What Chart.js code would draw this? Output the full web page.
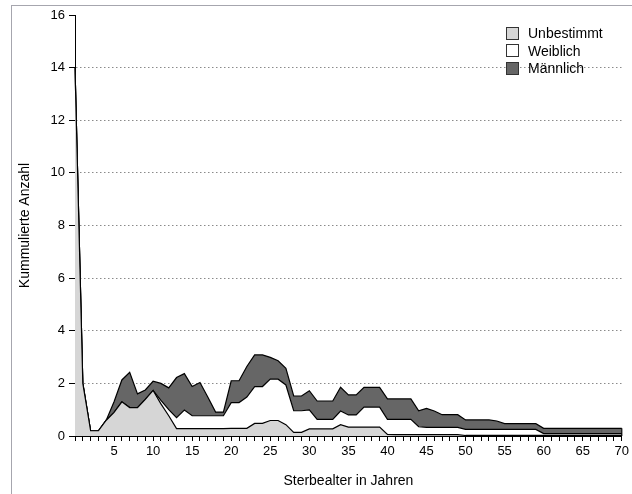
<!DOCTYPE html>
<html>
<head>
<meta charset="utf-8">
<script src="https://cdn.jsdelivr.net/npm/chart.js@4/dist/chart.umd.min.js"></script>
<style>
  html, body { margin: 0; padding: 0; background: #fff; }
  #wrap { position: relative; width: 632px; height: 494px; overflow: hidden; }
  #c { position: absolute; left: 0; top: 0; }
  #frame { position: absolute; left: 11px; top: 5px; width: 700px; height: 600px;
           border-left: 1px solid #a6a6ae; border-top: 1px solid #a6a6ae; }
  #legend { position: absolute; left: 506px; top: 25px; font-family: 'Liberation Sans', Arial, sans-serif;
            font-size: 14px; color: #000; }
  .item { position: relative; height: 17.5px; line-height: 17.5px; white-space: nowrap; }
  .sw { display: inline-block; width: 11px; height: 11px; border: 1px solid #333;
        vertical-align: middle; margin-right: 9px; position: relative; top: -1px; }
</style>
</head>
<body>
<div id="wrap">
  <div id="frame"></div>
  <canvas id="c" width="632" height="494"></canvas>
  <div id="legend"></div>
</div>
<script>
// Ages 0..70
const ages = Array.from({length: 71}, (_, i) => String(i));

// Series values (per age, stacked)
const unbestimmt = [
  14, 2, 0.2, 0.2, 0.6, 0.9, 1.3, 1.08, 1.08, 1.39,
  1.73, 1.22, 0.77, 0.28, 0.28, 0.28, 0.28, 0.28, 0.28, 0.28,
  0.29, 0.29, 0.29, 0.48, 0.48, 0.59, 0.59, 0.43, 0.14, 0.14,
  0.27, 0.27, 0.27, 0.27, 0.43, 0.34, 0.34, 0.34, 0.34, 0.34,
  0.06, 0.05, 0.05, 0.05, 0.05, 0.05, 0.05, 0.05, 0.05, 0.05,
  0.02, 0.02, 0.02, 0.02, 0.02, 0.02, 0.02, 0.02, 0.02, 0.02,
  0.02, 0.02, 0.02, 0.02, 0.02, 0.02, 0.02, 0.02, 0.02, 0.02, 0.02
];
const weiblich = [
  0, 0, 0, 0, 0, 0, 0, 0, 0, 0,
  0, 0.13, 0.23, 0.42, 0.71, 0.49, 0.49, 0.49, 0.49, 0.49,
  0.98, 0.98, 1.19, 1.4, 1.4, 1.57, 1.57, 1.51, 0.82, 0.82,
  0.72, 0.36, 0.36, 0.36, 0.52, 0.46, 0.46, 0.76, 0.76, 0.76,
  0.57, 0.58, 0.58, 0.58, 0.3, 0.28, 0.28, 0.28, 0.28, 0.28,
  0.23, 0.23, 0.23, 0.23, 0.23, 0.23, 0.23, 0.23, 0.23, 0.23,
  0.07, 0.07, 0.07, 0.07, 0.07, 0.07, 0.07, 0.07, 0.07, 0.07, 0.07
];
const maennlich = [
  0, 0, 0, 0, 0, 0.4, 0.83, 1.34, 0.52, 0.36,
  0.35, 0.65, 0.83, 1.52, 1.38, 1.11, 1.26, 0.71, 0.14, 0.14,
  0.83, 0.83, 1.16, 1.2, 1.2, 0.83, 0.7, 0.63, 0.56, 0.56,
  0.73, 0.7, 0.7, 0.7, 0.9, 0.76, 0.76, 0.75, 0.75, 0.75,
  0.78, 0.78, 0.78, 0.78, 0.61, 0.72, 0.62, 0.48, 0.48, 0.48,
  0.36, 0.36, 0.36, 0.36, 0.32, 0.22, 0.22, 0.22, 0.22, 0.22,
  0.2, 0.2, 0.2, 0.2, 0.2, 0.2, 0.2, 0.2, 0.2, 0.2, 0.2
];
const seriesNames = ['Unbestimmt', 'Weiblich', 'Männlich'];
const yTicks = [0, 2, 4, 6, 8, 10, 12, 14, 16];

const FONT = "'Liberation Sans', Arial, Helvetica, sans-serif";
Chart.defaults.font.family = FONT;
Chart.defaults.font.size = 13;
Chart.defaults.color = '#000';

const fills = ['#d6d6d6', '#ffffff', '#666666'];
const seriesData = [unbestimmt, weiblich, maennlich];

const datasets = seriesNames.map((name, i) => ({
  label: name,
  data: seriesData[i],
  backgroundColor: fills[i],
  borderColor: '#000',
  borderWidth: 1.2,
  pointRadius: 0,
  tension: 0,
  fill: i === 0 ? 'origin' : '-1'
}));

const closeEdge = {
  id: 'closeEdge',
  afterDatasetsDraw(chart) {
    const meta = chart.getDatasetMeta(datasets.length - 1);
    const pt = meta.data[meta.data.length - 1];
    const ctx = chart.ctx;
    ctx.save();
    ctx.strokeStyle = '#000';
    ctx.lineWidth = 1.2;
    ctx.beginPath();
    ctx.moveTo(pt.x, pt.y);
    ctx.lineTo(pt.x, chart.chartArea.bottom);
    ctx.stroke();
    ctx.restore();
  }
};

new Chart(document.getElementById('c'), {
  type: 'line',
  data: { labels: ages, datasets },
  plugins: [closeEdge],
  options: {
    responsive: false,
    animation: false,
    events: [],
    layout: { padding: { left: 0, right: 10, top: 15, bottom: 0 } },
    plugins: { legend: { display: false }, tooltip: { enabled: false } },
    scales: {
      x: {
        type: 'category',
        offset: false,
        grid: { drawOnChartArea: false, drawTicks: true, tickLength: 5, tickColor: '#000', tickWidth: 1 },
        border: { color: '#000', width: 1 },
        ticks: {
          autoSkip: false, maxRotation: 0, minRotation: 0, padding: 3,
          font: { size: 13 },
          callback: (v, i) => (i > 0 && i % 5 === 0) ? ages[i] : ''
        },
        title: { display: true, text: 'Sterbealter in Jahren', font: { size: 14 }, padding: { top: 0, bottom: 4.6 } },
        afterFit: s => { s.height = 58; }
      },
      y: {
        stacked: true,
        min: 0, max: 16,
        afterBuildTicks: s => { s.ticks = yTicks.map(v => ({ value: v })); },
        grid: {
          color: c => (c.tick && (c.tick.value === 0 || c.tick.value === 16)) ? 'rgba(0,0,0,0)' : '#8a8a8a',
          lineWidth: 1, drawTicks: true, tickLength: 6, tickColor: '#000', tickWidth: 1
        },
        border: { color: '#000', width: 1, dash: [1.5, 2.5] },
        ticks: { padding: 4, font: { size: 13 } },
        title: { display: true, text: 'Kummulierte Anzahl', font: { size: 14 }, padding: { top: 16.6, bottom: 0 } },
        afterFit: s => { s.width = 75; }
      }
    }
  }
});

// HTML legend built from the dataset definitions
const lg = document.getElementById('legend');
datasets.forEach(d => {
  const it = document.createElement('div');
  it.className = 'item';
  const sw = document.createElement('span');
  sw.className = 'sw';
  sw.style.background = d.backgroundColor;
  it.appendChild(sw);
  it.appendChild(document.createTextNode(d.label));
  lg.appendChild(it);
});
</script>
</body>
</html>
